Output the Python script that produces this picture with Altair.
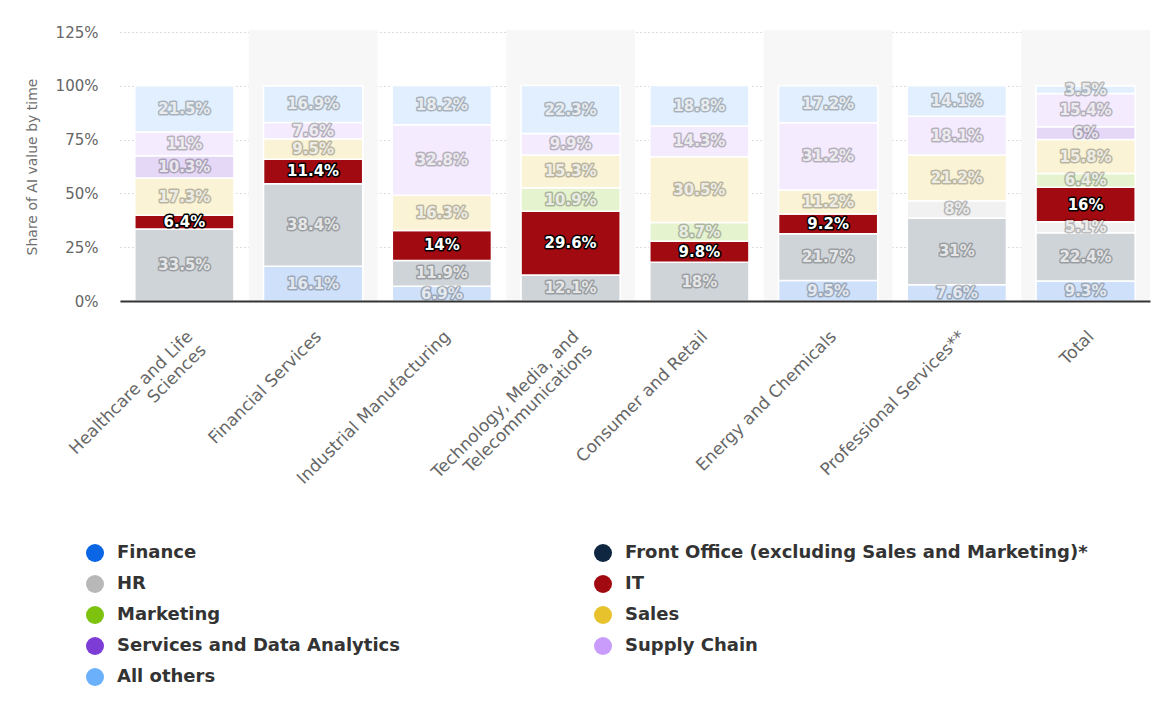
import altair as alt
import pandas as pd

# Industries (x axis); "\n" marks a line break in the axis label
categories = [
    "Healthcare and Life\nSciences",
    "Financial Services",
    "Industrial Manufacturing",
    "Technology, Media, and\nTelecommunications",
    "Consumer and Retail",
    "Energy and Chemicals",
    "Professional Services**",
    "Total",
]

# Business functions, in stacking order (bottom to top)
series = [
    "Finance",
    "Front Office (excluding Sales and Marketing)*",
    "HR",
    "IT",
    "Marketing",
    "Sales",
    "Services and Data Analytics",
    "Supply Chain",
    "All others",
]
colors = ["#0a66e4", "#0f2740", "#b8b8b8", "#a10a10", "#7cc20f",
          "#e8c22c", "#7d3cd6", "#c99bfb", "#6bb0fb"]

# Share of AI value by time (%), one list per function; None = not reported
finance      = [None, 16.1, 6.9, None, None, 9.5, 7.6, 9.3]
front_office = [33.5, 38.4, 11.9, 12.1, 18.0, 21.7, 31.0, 22.4]
hr           = [None, None, None, None, None, None, 8.0, 5.1]
it           = [6.4, 11.4, 14.0, 29.6, 9.8, 9.2, None, 16.0]
marketing    = [None, None, None, 10.9, 8.7, None, None, 6.4]
sales        = [17.3, 9.5, 16.3, 15.3, 30.5, 11.2, 21.2, 15.8]
services     = [10.3, None, None, None, None, None, None, 6.0]
supply_chain = [11.0, 7.6, 32.8, 9.9, 14.3, 31.2, 18.1, 15.4]
all_others   = [21.5, 16.9, 18.2, 22.3, 18.8, 17.2, 14.1, 3.5]

values = [finance, front_office, hr, it, marketing, sales, services,
          supply_chain, all_others]

rows = []
for s_idx, (name, vals) in enumerate(zip(series, values)):
    for cat, v in zip(categories, vals):
        if v is not None:
            rows.append({"category": cat, "series": name, "order": s_idx, "value": v})
df = pd.DataFrame(rows)

bands = pd.DataFrame({"category": categories[1::2]})

# The legend grid fills column by column; list entries so that it reads
# row by row in stacking order (two columns).
legend_order = series[0::2] + series[1::2]
legend_colors = [colors[series.index(s)] for s in legend_order]

FONT = "DejaVu Sans"
HIGHLIGHT = "IT"

x_enc = alt.X(
    "category:N",
    sort=categories,
    scale=alt.Scale(paddingInner=0, paddingOuter=0),
    axis=alt.Axis(
        title=None,
        labelAngle=-45,
        labelAlign="right",
        labelBaseline="top",
        labelPadding=27,
        labelOffset=0,
        labelFontSize=17,
        labelColor="#666666",
        labelFont=FONT,
        labelLimit=400,
        labelExpr="split(datum.label, '\\n')",
        ticks=False,
        domainColor="#333333",
        domainWidth=2,
        grid=False,
    ),
)
y_scale = alt.Scale(domain=[0, 125], nice=False)

base = alt.Chart(df).transform_stack(
    stack="value",
    groupby=["category"],
    sort=[alt.SortField("order", order="ascending")],
    as_=["y0", "y1"],
).transform_calculate(
    mid="(datum.y0 + datum.y1) / 2",
    label="format(datum.value, '.1~f') + '%'",
)

band_layer = alt.Chart(bands).mark_rect(color="#f7f7f7").encode(
    x=alt.X("category:N", sort=categories),
    y=alt.value(-2),
    y2=alt.value(269),
)

grid_layer = base.mark_bar(opacity=0).encode(
    x=x_enc,
    y=alt.Y(
        "y1:Q",
        scale=y_scale,
        axis=alt.Axis(
            title="Share of AI value by time",
            titleFont=FONT,
            titleFontSize=14,
            titleFontWeight="normal",
            titleColor="#707070",
            titlePadding=16,
            values=[0, 25, 50, 75, 100, 125],
            labelExpr="datum.value + '%'",
            labelFont=FONT,
            labelFontSize=15,
            labelColor="#666666",
            labelPadding=22,
            ticks=False,
            domain=False,
            grid=True,
            gridColor="#bbbbbb",
            gridDash=[1, 3],
            gridWidth=1,
        ),
    ),
)

under = base.mark_bar(width=alt.RelativeBandSize(0.77), color="white",
                      stroke="white", strokeWidth=1.5).encode(
    x=x_enc,
    y=alt.Y("y0:Q", scale=y_scale),
    y2="y1:Q",
)

bars = base.mark_bar(width=alt.RelativeBandSize(0.77), stroke="white",
                     strokeWidth=1.5).encode(
    x=x_enc,
    y=alt.Y("y0:Q", scale=y_scale),
    y2="y1:Q",
    color=alt.Color(
        "series:N",
        scale=alt.Scale(domain=legend_order, range=legend_colors),
        legend=alt.Legend(
            title=None,
            orient="none",
            legendX=-34,
            legendY=512,
            columns=2,
            columnPadding=194,
            rowPadding=13,
            padding=0,
            symbolType="circle",
            symbolSize=324,
            symbolOpacity=1,
            symbolStrokeWidth=0,
            labelFont=FONT,
            labelFontSize=18,
            labelFontWeight="bold",
            labelColor="#333333",
            labelOffset=13,
            labelLimit=600,
        ),
    ),
    fillOpacity=alt.condition(alt.datum.series == HIGHLIGHT, alt.value(1), alt.value(0.2)),
)

text_outline = base.mark_text(font=FONT, fontSize=15, fontWeight="bold",
                              stroke="black", strokeWidth=3, strokeJoin="round",
                              fill="black").encode(
    x=x_enc,
    y=alt.Y("mid:Q", scale=y_scale),
    text="label:N",
    opacity=alt.condition(alt.datum.series == HIGHLIGHT, alt.value(1), alt.value(0.25)),
)

text_fill = base.mark_text(font=FONT, fontSize=15, fontWeight="bold",
                           fill="white").encode(
    x=x_enc,
    y=alt.Y("mid:Q", scale=y_scale),
    text="label:N",
    opacity=alt.condition(alt.datum.series == HIGHLIGHT, alt.value(1), alt.value(0.75)),
)

chart = alt.layer(
    band_layer, grid_layer, under, bars, text_outline, text_fill
).properties(
    width=1030,
    height=269,
    padding={"left": 120, "top": 32, "right": 20, "bottom": 411},
    autosize=alt.AutoSizeParams(type="none"),
    background="white",
).configure_view(stroke=None)

chart.save("out.html", embed_options={"renderer": "svg", "actions": False})
